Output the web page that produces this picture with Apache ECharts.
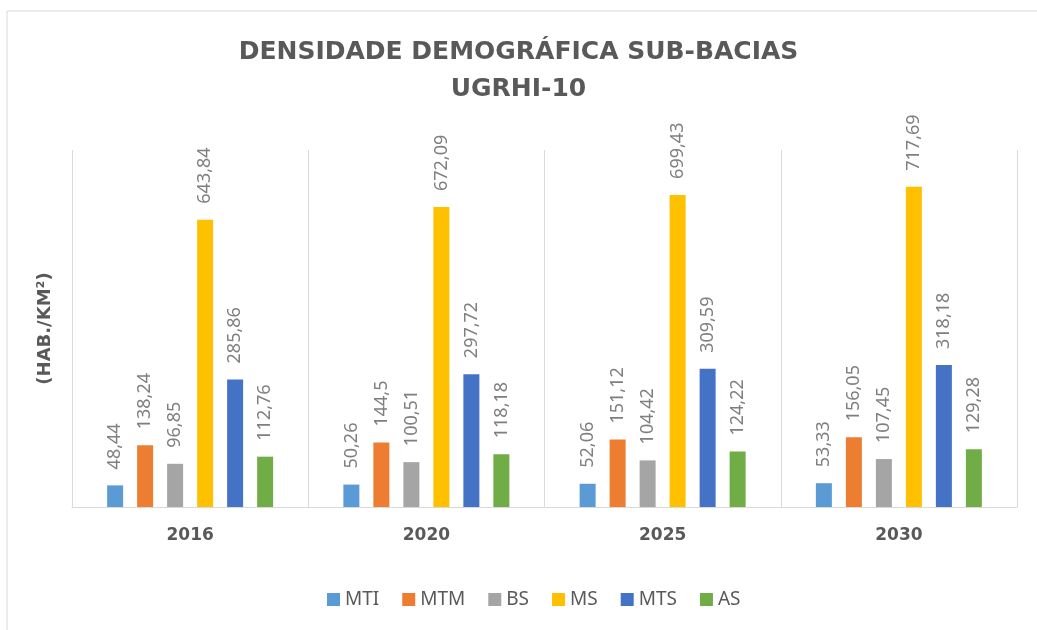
<!DOCTYPE html>
<html lang="pt">
<head>
    <meta charset="UTF-8">
    <title>Densidade demográfica sub-bacias</title>
    <style>
        html, body { margin: 0; padding: 0; background: #fff; }
    </style>
</head>
<body>
<div id="main" style="width: 1037px;height:630px;"></div>
<script type="text/javascript" src="https://cdn.jsdelivr.net/npm/echarts@6/dist/echarts.min.js"></script>
<script>
    // dados
    var anos = ['2016', '2020', '2025', '2030'];
    var MTI = [48.44, 50.26, 52.06, 53.33];
    var MTM = [138.24, 144.5, 151.12, 156.05];
    var BS  = [96.85, 100.51, 104.42, 107.45];
    var MS  = [643.84, 672.09, 699.43, 717.69];
    var MTS = [285.86, 297.72, 309.59, 318.18];
    var AS  = [112.76, 118.18, 124.22, 129.28];

    var nomes = ['MTI', 'MTM', 'BS', 'MS', 'MTS', 'AS'];
    var valores = [MTI, MTM, BS, MS, MTS, AS];
    var cores = ['#5b9bd5', '#ed7d31', '#a5a5a5', '#ffc000', '#4472c4', '#70ad47'];

    var myChart = echarts.init(document.getElementById('main'));

    var series = [];
    for (var i = 0; i < nomes.length; i++) {
        series.push({
            name: nomes[i],
            type: 'bar',
            barWidth: 16,
            barGap: '87.5%',
            data: valores[i],
            itemStyle: { color: cores[i] },
            label: {
                show: true,
                position: 'top',
                rotate: 90,
                align: 'left',
                verticalAlign: 'middle',
                distance: 16,
                color: '#7f7f7f',
                fontFamily: 'Noto Sans',
                fontSize: 18,
                formatter: function (p) {
                    return String(p.value).replace('.', ',');
                }
            }
        });
    }

    var option = {
        animation: false,
        color: cores,
        title: {
            text: 'DENSIDADE DEMOGRÁFICA SUB-BACIAS\nUGRHI-10',
            left: 'center',
            top: 29,
            textStyle: {
                fontFamily: 'DejaVu Sans',
                fontWeight: 'bold',
                fontSize: 25,
                lineHeight: 37,
                color: '#595959'
            }
        },
        legend: {
            bottom: 16,
            left: 322,
            itemWidth: 13,
            itemHeight: 13,
            itemGap: 23,
            icon: 'rect',
            textStyle: { fontFamily: 'Noto Sans', fontSize: 19, color: '#595959' },
            data: nomes
        },
        grid: {
            left: 72,
            right: 20,
            top: 150,
            bottom: 123
        },
        xAxis: {
            type: 'category',
            data: anos,
            axisLine: { lineStyle: { color: '#d9d9d9', width: 1 } },
            axisTick: { show: false },
            splitLine: { show: true, lineStyle: { color: '#d9d9d9', width: 1 } },
            axisLabel: {
                margin: 20,
                fontFamily: 'DejaVu Sans',
                fontWeight: 'bold',
                fontSize: 17,
                color: '#595959'
            }
        },
        yAxis: {
            type: 'value',
            min: 0,
            max: 800,
            name: '(HAB./KM²)',
            nameLocation: 'middle',
            nameRotate: 90,
            nameGap: 18,
            nameTextStyle: {
                fontFamily: 'DejaVu Sans',
                fontWeight: 'bold',
                fontSize: 18,
                color: '#595959'
            },
            axisLabel: { show: false },
            axisLine: { show: false },
            axisTick: { show: false },
            splitLine: { show: false }
        },
        graphic: [{
            type: 'rect',
            shape: { x: 7, y: 11, width: 1100, height: 700 },
            style: { fill: 'none', stroke: '#d9d9d9', lineWidth: 1 },
            silent: true
        }],
        series: series
    };

    myChart.setOption(option);
</script>
</body>
</html>
